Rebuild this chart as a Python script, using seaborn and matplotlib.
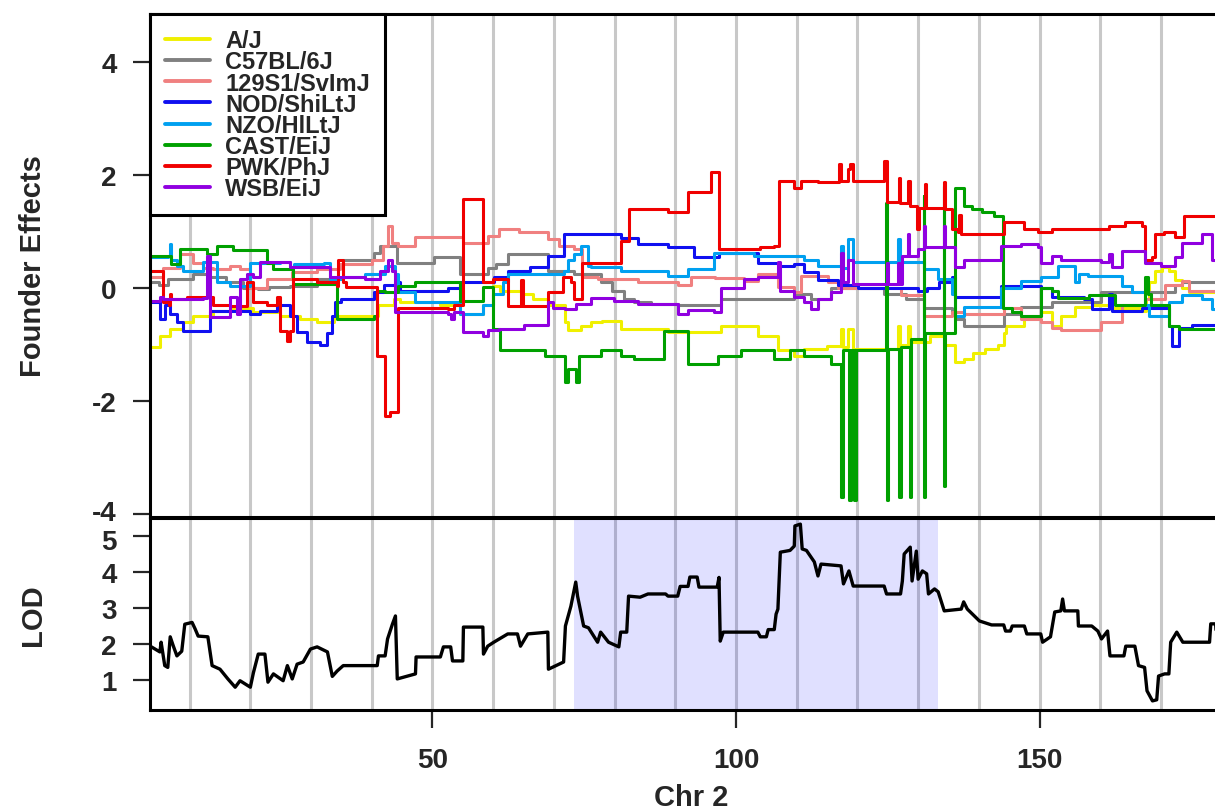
import matplotlib
matplotlib.use("Agg")
import matplotlib.pyplot as plt
import matplotlib.transforms as mtransforms
from matplotlib.lines import Line2D
import seaborn as sns
import pandas as pd

sns.set_theme(style="white")
plt.rcParams["font.family"] = ["Liberation Sans", "DejaVu Sans"]
plt.rcParams["font.weight"] = "bold"

# ---------------- data ----------------
strains = ["A/J", "C57BL/6J", "129S1/SvImJ", "NOD/ShiLtJ", "NZO/HlLtJ", "CAST/EiJ", "PWK/PhJ", "WSB/EiJ"]
colors = ["#F0F000", "#808080", "#F08080", "#1010F0", "#00A0F0", "#00A000", "#F00000", "#9000E0"]

aj_x = [3.5,5.1,6.8,8.9,10.6,13.9,16.7,20.5,24.9,28.2,31.0,33.7,38.9,41.1,43.6,44.7,51.3,54.6,58.3,59.9,61.2,64.5,66.5,69.1,71.9,72.4,74.4,76.1,78.0,81.0,88.8,97.5,103.6,106.9,109.6,111.2,115.0,117.3,117.6,118.5,119.3,126.7,127.0,128.4,128.7,132.0,134.3,136.0,137.6,139.0,141.0,143.2,144.2,144.4,147.5,150.3,152.0,153.6,155.8,158.6,161.4,166.8,167.5,168.0,169.0,170.1,171.3,172.3,173.4,174.6,181.7]
aj_y = [-1.05,-0.85,-0.73,-0.6,-0.5,-0.4,-0.35,-0.43,-0.5,-0.55,-0.6,-0.5,-0.5,-0.3,-0.2,-0.25,-0.3,-0.45,-0.3,0.03,-0.05,-0.1,-0.2,-0.3,-0.6,-0.75,-0.67,-0.6,-0.58,-0.73,-0.78,-0.67,-0.85,-1.1,-1.2,-1.08,-1.03,-0.73,-1.05,-0.73,-1.08,-0.67,-1.0,-0.67,-0.95,-0.85,-1.0,-1.3,-1.25,-1.15,-1.08,-1.0,-0.8,-0.67,-0.5,-0.43,-0.67,-0.5,-0.34,-0.3,-0.35,-0.4,-0.2,0.1,0.3,0.37,0.3,0.15,0.0,-0.07,-0.07]

b6_x = [3.5,5.0,6.4,10.6,13.0,16.0,18.8,21.3,23.0,26.6,31.0,35.3,40.3,41.4,43.9,44.2,50.2,54.6,59.1,60.5,62.4,69.1,73.3,77.7,79.5,81.5,83.2,86.0,90.4,97.5,106.3,109.6,112.4,115.7,124.4,128.0,131.0,135.5,136.0,137.6,144.2,147.0,152.0,160.2,171.3,172.3,173.4,181.7]
b6_y = [0.1,0.05,0.16,0.25,0.2,0.1,0.0,-0.02,0.02,0.04,0.16,0.5,0.63,0.75,0.8,0.45,0.55,0.25,0.35,0.42,0.6,0.3,0.25,0.1,-0.05,-0.2,-0.25,-0.28,-0.3,-0.2,-0.2,-0.1,-0.2,0.0,-0.1,-0.2,-0.35,-0.45,-0.55,-0.67,-0.45,-0.34,-0.25,-0.07,-0.07,0.05,0.1,0.1]

s129_x = [3.5,5.6,8.4,10.6,12.2,13.9,16.7,18.3,20.0,22.8,26.9,31.0,34.8,40.0,41.9,42.6,43.3,44.4,47.2,55.0,59.2,60.9,64.2,69.1,70.8,73.3,74.6,77.2,83.8,90.4,92.6,96.5,101.3,103.6,106.9,109.6,110.7,115.2,116.8,127.2,131.0,135.5,137.6,144.2,147.0,150.3,152.0,153.6,160.2,163.5,167.3,170.6,173.4,174.6,181.7]
s129_y = [0.2,0.35,0.6,0.45,0.35,0.33,0.4,0.33,0.0,0.16,0.28,0.33,0.42,0.5,0.75,1.1,0.8,0.75,0.9,0.8,0.92,1.05,1.0,0.87,0.75,0.7,0.2,0.16,0.1,0.05,0.2,0.18,0.12,0.25,0.02,-0.07,0.22,0.1,0.0,-0.13,-0.5,-0.43,-0.45,-0.35,-0.55,-0.6,-0.7,-0.75,-0.6,-0.3,-0.2,0.05,0.12,-0.05,0.0]

nod_x = [3.5,5.1,5.9,6.8,7.9,8.9,13.4,17.8,20.0,21.6,24.4,26.6,27.7,29.4,31.5,32.7,33.5,34.0,35.0,40.3,42.0,43.9,44.7,52.5,54.6,60.1,62.4,66.0,69.1,71.6,81.0,83.8,88.8,93.1,97.2,103.6,107.0,109.6,111.2,113.5,116.8,120.1,130.0,131.5,133.5,135.5,136.0,143.7,150.3,152.0,157.4,158.6,161.4,162.0,166.8,171.3,171.8,172.9,175.1,181.7]
nod_y = [-0.25,-0.55,-0.3,-0.45,-0.6,-0.76,-0.4,-0.4,-0.45,-0.4,-0.3,-0.5,-0.78,-0.95,-1.0,-0.8,-0.5,-0.25,-0.2,-0.07,0.05,0.1,-0.05,0.0,0.1,0.2,0.3,0.38,0.57,0.95,0.88,0.78,0.72,0.55,0.63,0.45,0.4,0.42,0.28,0.14,0.05,0.0,-0.05,0.0,0.1,0.2,-0.15,0.04,0.0,-0.15,-0.2,-0.37,-0.1,-0.4,-0.35,-0.67,-1.03,-0.7,-0.65,-0.75]

nzo_x = [3.5,6.4,6.8,7.0,7.9,8.9,12.2,14.5,16.7,20.0,24.9,26.6,27.2,32.2,33.2,35.3,38.9,42.2,43.9,44.4,47.2,54.6,58.3,59.9,61.6,62.5,71.6,72.4,73.3,74.4,75.6,76.1,81.0,88.8,92.1,96.4,103.0,111.2,113.5,117.3,117.6,118.5,119.3,126.7,127.0,131.0,133.3,135.5,136.0,137.6,143.7,147.0,150.3,153.1,155.8,156.5,158.0,163.5,165.2,167.3,168.0,171.3,173.4,176.7,178.4,181.7]
nzo_y = [0.55,0.57,0.78,0.5,0.4,0.3,0.47,0.1,0.03,0.45,0.47,0.37,0.42,0.45,0.16,0.2,0.25,0.4,0.25,-0.07,-0.25,-0.45,-0.3,-0.1,0.1,0.25,0.3,0.5,0.6,0.75,0.4,0.37,0.3,0.22,0.33,0.63,0.57,0.5,0.4,0.75,0.35,0.87,0.47,0.87,0.47,0.33,0.16,-0.1,-0.5,-0.33,0.0,0.12,0.2,0.4,0.1,0.25,0.22,0.04,-0.07,-0.3,-0.5,-0.25,-0.13,-0.2,-0.37,-0.37]

cast_x = [3.5,7.0,8.4,12.9,14.5,17.2,22.8,23.8,27.1,34.3,40.3,40.9,42.2,44.4,47.2,54.6,58.3,59.9,61.2,68.6,71.9,72.4,73.6,74.1,77.7,81.0,83.2,88.1,92.1,97.0,100.8,106.3,108.9,111.2,115.7,117.3,117.6,118.6,118.9,119.4,119.7,124.7,124.9,125.1,126.9,127.1,128.7,128.9,130.9,131.0,131.2,134.2,134.3,134.5,136.0,137.6,138.8,140.5,142.5,144.0,145.5,147.0,150.3,152.0,153.1,158.1,162.4,166.8,167.3,167.8,168.3,171.3,172.9,181.7]
cast_y = [0.57,0.42,0.7,0.6,0.75,0.67,0.45,0.33,0.07,-0.55,-0.5,-0.05,-0.07,0.04,0.1,-0.23,0.02,-0.73,-1.1,-1.2,-1.67,-1.43,-1.67,-1.2,-1.1,-1.2,-1.25,-0.76,-1.35,-1.2,-1.1,-1.25,-1.1,-1.2,-1.35,-3.7,-1.1,-3.75,-1.1,-3.75,-1.1,1.5,-3.75,-1.08,-3.7,-1.05,-3.7,-0.9,1.63,-3.7,-0.8,1.8,-3.5,-0.8,1.78,1.45,1.4,1.35,1.28,-0.35,-0.43,-0.5,0.0,-0.05,-0.17,-0.13,-0.3,-0.3,0.2,-0.1,-0.3,-0.67,-0.73,-0.73]

pwk_x = [3.5,5.6,6.6,6.8,7.0,9.6,13.9,16.7,19.5,20.5,22.8,24.4,24.9,26.1,26.6,27.1,31.0,34.3,34.5,35.3,35.8,40.9,42.2,43.0,44.4,52.5,53.5,55.0,58.4,60.0,62.5,64.5,64.9,69.1,71.5,72.8,73.3,74.6,81.0,82.4,88.8,92.1,95.9,97.2,104.0,106.3,107.0,109.6,110.7,113.5,117.0,117.3,118.5,118.8,119.3,124.4,124.8,126.8,127.0,128.4,128.7,129.8,130.2,131.1,131.3,134.2,134.4,135.5,136.5,136.8,137.0,144.2,147.5,149.8,152.0,161.4,164.0,166.8,167.3,168.5,169.0,170.5,172.3,173.8,181.7]
pwk_y = [0.3,-0.25,-0.3,-0.1,-0.2,-0.15,-0.3,-0.32,0.1,-0.25,-0.3,-0.15,-0.76,-0.93,-0.76,0.16,0.1,0.04,0.5,0.1,0.02,-1.2,-2.27,-2.2,-0.35,-0.37,-0.3,1.58,0.1,0.16,-0.32,0.15,-0.32,-0.07,0.2,0.1,-0.2,0.45,0.83,1.4,1.35,1.7,2.05,0.7,0.72,0.75,1.9,1.78,1.9,1.88,2.2,1.9,2.1,2.2,1.9,2.25,1.52,1.95,1.5,1.9,1.45,1.05,1.42,1.85,1.42,1.88,1.4,1.05,1.0,1.3,0.95,1.17,1.05,1.0,1.05,1.1,1.17,1.1,0.5,0.55,0.95,1.0,0.9,1.28,1.3]

wsb_x = [3.5,5.1,5.6,12.2,12.9,13.4,16.7,17.8,18.3,19.5,20.5,21.6,26.6,33.2,38.9,41.4,42.6,43.4,43.9,52.5,53.0,53.5,55.0,58.4,59.2,60.9,65.0,69.0,69.1,69.8,71.9,73.6,76.1,79.9,83.8,90.4,92.1,96.4,97.5,101.3,103.6,106.9,107.2,109.6,111.2,112.4,113.5,115.7,117.3,117.6,118.5,119.3,124.8,125.1,126.7,127.0,127.4,128.3,128.5,130.0,131.0,131.2,134.2,134.4,136.0,137.6,143.7,147.0,149.8,150.3,152.0,153.6,160.2,161.4,161.9,163.5,167.3,170.0,172.3,173.4,176.7,178.4,181.7]
wsb_y = [-0.23,-0.15,-0.2,-0.17,0.57,-0.52,-0.15,-0.45,0.16,0.25,0.2,0.47,0.37,0.2,0.16,0.3,0.5,0.3,-0.43,-0.45,-0.55,-0.43,-0.78,-0.85,-0.75,-0.73,-0.65,-0.6,-0.25,-0.35,-0.37,-0.28,-0.17,-0.23,-0.28,-0.46,-0.38,-0.43,0.0,0.16,0.2,0.47,-0.05,-0.15,-0.25,-0.37,-0.2,-0.07,0.63,0.1,0.5,0.07,0.45,0.07,0.45,0.07,0.57,0.95,0.57,0.7,1.1,0.72,1.1,0.72,0.37,0.5,0.75,0.78,0.72,0.45,0.57,0.5,0.47,0.6,0.37,0.65,0.45,0.4,0.55,0.8,0.95,0.5,0.5]

lod_x = [3.5,5.1,5.3,5.9,6.4,6.8,7.3,7.9,8.7,9.2,10.4,10.9,11.4,13.0,13.7,15.0,16.3,17.5,18.3,20.0,20.5,21.3,22.4,22.9,23.8,25.4,26.1,26.9,27.7,28.7,29.9,31.0,32.7,33.5,34.3,35.3,40.9,41.1,42.2,42.6,43.4,43.9,44.2,47.2,47.3,51.3,51.8,53.0,53.3,55.0,55.1,58.3,58.4,59.1,60.1,62.4,64.0,64.5,65.7,69.0,69.1,71.6,71.9,72.8,73.6,73.9,74.9,75.7,77.2,77.7,79.0,80.7,81.0,82.0,82.3,84.2,85.5,88.4,88.8,90.4,90.8,92.1,92.4,93.6,93.9,96.9,97.2,97.4,97.9,103.6,104.0,105.0,105.3,106.3,106.6,106.9,107.3,108.9,109.6,109.7,110.6,110.9,111.6,112.9,113.5,114.0,117.3,117.7,118.6,119.3,124.4,124.8,127.1,127.4,127.7,128.7,129.0,129.7,130.0,130.7,131.4,131.7,132.7,133.3,134.3,137.1,137.5,138.1,140.1,142.1,144.1,144.4,145.2,145.5,147.5,147.9,150.2,150.5,151.8,152.5,153.5,153.8,154.1,156.3,156.4,158.6,159.6,160.2,161.2,161.6,163.9,164.2,165.7,166.3,167.3,167.7,168.6,169.3,169.6,170.6,171.3,171.6,172.6,173.6,178.0,178.2,179.0,179.3,181.7]
lod_y = [1.94,1.78,2.05,1.4,1.35,2.2,1.95,1.67,1.8,2.55,2.6,2.42,2.22,2.2,1.4,1.3,1.03,0.8,0.98,0.8,1.2,1.72,1.72,0.94,1.17,0.98,1.4,1.03,1.44,1.5,1.86,1.92,1.78,1.1,1.25,1.4,1.4,1.67,1.67,2.14,2.55,2.78,1.03,1.17,1.64,1.64,1.92,1.92,1.53,1.53,2.47,2.47,1.72,1.94,2.05,2.28,2.28,1.94,2.28,2.33,1.3,1.5,2.5,3.05,3.72,3.33,2.5,2.45,2.05,2.33,2.05,1.92,2.33,2.33,3.33,3.3,3.39,3.39,3.33,3.33,3.6,3.6,3.86,3.86,3.58,3.58,3.85,2.08,2.33,2.33,2.2,2.2,2.4,2.4,2.83,2.97,4.55,4.6,4.72,5.28,5.33,4.64,4.6,4.28,3.89,4.22,4.17,3.67,4.03,3.61,3.61,3.39,3.39,3.75,4.5,4.69,3.75,4.58,3.8,4.03,3.95,3.39,3.53,3.45,2.92,2.97,3.17,2.97,2.64,2.53,2.53,2.36,2.36,2.5,2.5,2.28,2.28,2.05,2.2,2.89,2.92,3.25,2.92,2.92,2.5,2.5,2.36,2.14,2.36,1.67,1.67,1.94,1.94,1.4,1.35,0.7,0.42,0.45,1.11,1.17,1.17,2.05,2.33,2.05,2.05,2.56,2.56,1.78,1.8]

interval = (73.3, 133.3)          # shaded support interval
grid_major = [50, 100, 150]
grid_minor = [10, 20, 30, 40, 60, 70, 80, 90, 110, 120, 130, 140, 160, 170, 180]
eff_ticks = [-4, -2, 0, 2, 4]
lod_ticks = [1, 2, 3, 4, 5]
xlim = (3.47, 181.7)
eff_ylim = (-4.05, 4.85)
lod_ylim = (0.167, 5.5)

series = [(aj_x, aj_y), (b6_x, b6_y), (s129_x, s129_y), (nod_x, nod_y),
          (nzo_x, nzo_y), (cast_x, cast_y), (pwk_x, pwk_y), (wsb_x, wsb_y)]

# ---------------- figure ----------------
W, H = 1215, 812
fig = plt.figure(figsize=(W / 100, H / 100), dpi=100)
left = 150 / W
width = (1232 - 150) / W
ax1 = fig.add_axes([left, 1 - 518 / H, width, (518 - 15) / H])
ax2 = fig.add_axes([left, 1 - 711 / H, width, (711 - 519) / H])

grid_kw = dict(color="#C8C8C8", lw=2.2)
for ax in (ax1, ax2):
    ax.set_axisbelow(True)
    ax.set_facecolor("white")
    ax.set_xlim(*xlim)
    ax.set_xticks(grid_major)
    ax.set_xticks(grid_minor, minor=True)
    ax.grid(True, which="both", axis="x", **grid_kw)
    ax.grid(False, axis="y")
    for s in ax.spines.values():
        s.set_visible(True)
        s.set_color("black")
        s.set_linewidth(2.2)

lw = 2.2
for (xs, ys), name, col in zip(series, strains, colors):
    df = pd.DataFrame({"x": xs, "y": ys})
    sns.lineplot(data=df, x="x", y="y", ax=ax1, color=col, lw=lw,
                 estimator=None, sort=False, drawstyle="steps-post", legend=False)

TICK_FS = 20
LAB_FS = 21

ax1.set_ylim(*eff_ylim)
ax1.set_yticks(eff_ticks)
ax1.set_yticklabels([str(t) for t in eff_ticks])
ax1.tick_params(axis="x", which="both", length=0, labelbottom=False)
ax1.tick_params(axis="y", length=12, width=1.6, pad=12, labelsize=TICK_FS, left=True)
ax1.set_xlabel("")
ax1.set_ylabel("Founder Effects", fontsize=LAB_FS, fontweight="bold")
ax1.yaxis.set_label_coords(-0.095, 0.5)

handles = [Line2D([], [], color=c, lw=2.8) for c in colors]
leg = ax1.legend(handles, strains, loc="upper left", bbox_to_anchor=(0, 1),
                 borderaxespad=0, fancybox=False, frameon=True, framealpha=1,
                 handlelength=1.9, handletextpad=0.64,
                 labelspacing=-0.08, borderpad=0.65,
                 prop={"weight": "bold", "size": 17})
leg.get_frame().set_edgecolor("black")
leg.get_frame().set_linewidth(2.2)
leg.get_frame().set_boxstyle("Square", pad=0)

# LOD panel
ax2.axvspan(*interval, color="blue", alpha=0.12, lw=0, zorder=1)
lod_df = pd.DataFrame({"x": lod_x, "y": lod_y})
sns.lineplot(data=lod_df, x="x", y="y", ax=ax2, color="black", lw=2.4,
             estimator=None, sort=False, legend=False, zorder=3)
ax2.set_ylim(*lod_ylim)
ax2.set_yticks(lod_ticks)
ax2.set_yticklabels([str(t) for t in lod_ticks])
ax2.tick_params(axis="y", length=12, width=1.6, pad=12, labelsize=TICK_FS, left=True)
ax2.tick_params(axis="x", which="major", length=13, width=1.6, pad=14, labelsize=TICK_FS, bottom=True)
ax2.tick_params(axis="x", which="minor", length=0)
ax2.set_ylabel("LOD", fontsize=LAB_FS, fontweight="bold")
ax2.yaxis.set_label_coords(-0.095, 0.5)
ax2.set_xlabel("Chr 2", fontsize=LAB_FS, fontweight="bold")
ax2.xaxis.set_label_coords(0.5, -0.38)

for ax in (ax1, ax2):
    for lab in ax.get_xticklabels() + ax.get_yticklabels():
        lab.set_fontweight("bold")

# nudge the lowest effect label and the top LOD label apart (they nearly touch)
up = mtransforms.ScaledTransform if False else None
lab_bottom = ax1.get_yticklabels()[0]
lab_bottom.set_transform(lab_bottom.get_transform() +
                         mtransforms.ScaledTranslation(0, 3 / 72, fig.dpi_scale_trans))
lab_top = ax2.get_yticklabels()[-1]
lab_top.set_transform(lab_top.get_transform() +
                      mtransforms.ScaledTranslation(0, -2 / 72, fig.dpi_scale_trans))

fig.savefig("out.png", dpi=100)
